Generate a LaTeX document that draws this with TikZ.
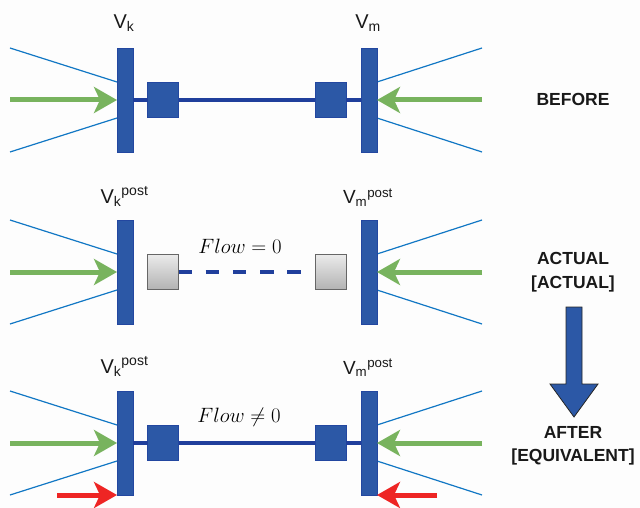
\documentclass[tikz,border=0pt]{standalone}
\usepackage{fontspec}
\setmainfont{Liberation Sans}
\usetikzlibrary{arrows.meta}
\definecolor{busblue}{HTML}{2C58A6}
\definecolor{busedge}{HTML}{2347A0}
\definecolor{linkblue}{HTML}{203F9C}
\definecolor{feeder}{HTML}{1177C4}
\definecolor{flowgreen}{HTML}{78B35E}
\definecolor{flowred}{HTML}{EE2524}
\definecolor{paper}{HTML}{FDFDFD}
\tikzset{
  busbar/.style={draw=busedge,line width=0.6pt,fill=busblue,minimum width=16pt,minimum height=104pt,inner sep=0pt,outer sep=0pt},
  brk/.style={draw=busedge,line width=0.6pt,fill=busblue,minimum width=31pt,minimum height=35pt,inner sep=0pt,outer sep=0pt},
  openbrk/.style={draw=black!60,line width=1pt,top color=black!8,bottom color=black!30,minimum width=31pt,minimum height=35pt,inner sep=0pt,outer sep=0pt},
  feederline/.style={draw=feeder,line width=1.2pt},
  link/.style={draw=linkblue,line width=3.6pt},
  openlink/.style={link,dash pattern=on 13.5pt off 13.7pt},
  greenflow/.style={draw=flowgreen,line width=5pt,-{Stealth[length=23pt,width=26pt,inset=6pt,fill=flowgreen]}},
  redflow/.style={draw=flowred,line width=5pt,-{Stealth[length=23pt,width=26pt,inset=6pt,fill=flowred]}},
  vlabel/.style={font=\fontsize{20}{22}\selectfont,inner sep=0pt,text=black!90},
  vmlabel/.style={font=\fontsize{19}{22}\selectfont,inner sep=0pt,text=black!90},
  statelabel/.style={font=\fontsize{17.5}{20}\selectfont\bfseries,inner sep=0pt,text=black!90},
  flowlabel/.style={font=\fontsize{20.7}{22}\selectfont,inner sep=0pt,text=black}
}
\newcommand{\feeders}[1]{%
  \coordinate (#1LT) at (10,-52);
  \coordinate (#1LB) at (10,52);
  \coordinate (#1RT) at (482,-52);
  \coordinate (#1RB) at (482,52);
  \coordinate (#1LTe) at (117,-18);
  \coordinate (#1LBe) at (117,18);
  \coordinate (#1RTf) at (377,-18);
  \coordinate (#1RBf) at (377,18);
  \coordinate (#1LG) at (10,0);
  \coordinate (#1RG) at (482,0);
  \draw[feederline] (#1LT) -- (#1LTe);
  \draw[feederline] (#1LB) -- (#1LBe);
  \draw[feederline] (#1RT) -- (#1RTf);
  \draw[feederline] (#1RB) -- (#1RBf);
  \node[busbar] (#1busk) at (125,0) {};
  \node[busbar] (#1busm) at (369,0) {};
  \draw[greenflow] (#1LG) -- (#1busk.west);
  \draw[greenflow] (#1RG) -- (#1busm.east);
}
\begin{document}
\begin{tikzpicture}[x=1pt,y=-1pt]
\useasboundingbox (0,0) rectangle (640,508);
\fill[paper] (0,0) rectangle (640,508);

% BEFORE
\begin{scope}[shift={(0,100)}]
  \feeders{a}
  \node[brk] (abrk) at (163,0) {};
  \node[brk] (abrm) at (330.5,0) {};
  \draw[link] (abusk.east) -- (abrk.west);
  \draw[link] (abrk.east) -- (abrm.west);
  \draw[link] (abrm.east) -- (abusm.west);
\end{scope}
\node[vlabel] (avk) at (124,23) {V\textsubscript{k}};
\node[vlabel] (avm) at (368,23) {V\textsubscript{m}};
\node[statelabel] (before) at (573,99) {BEFORE};

% ACTUAL
\begin{scope}[shift={(0,272)}]
  \feeders{b}
  \node[openbrk] (bbrk) at (163,0) {};
  \node[openbrk] (bbrm) at (330.5,0) {};
  \coordinate (bend) at (302,0);
  \draw[openlink] (bbrk.east) -- (bend);
\end{scope}
\node[flowlabel] (bflow) at (240,246) {$Flow = 0$};
\node[vlabel,anchor=base] (bvk) at (124.5,203) {V\textsubscript{k}\textsuperscript{post}};
\node[vmlabel,anchor=base] (bvm) at (368,204) {V\textsubscript{m}\textsuperscript{post}};
\node[statelabel] (actual) at (573,258) {ACTUAL};
\node[statelabel] (actualb) at (573,284) {[ACTUAL]};

% AFTER
\begin{scope}[shift={(0,443)}]
  \feeders{c}
  \node[brk] (cbrk) at (163,0) {};
  \node[brk] (cbrm) at (330.5,0) {};
  \draw[link] (cbusk.east) -- (cbrk.west);
  \draw[link] (cbrk.east) -- (cbrm.west);
  \draw[link] (cbrm.east) -- (cbusm.west);
  \coordinate (credl) at (57,52);
  \coordinate (credle) at (117,52);
  \coordinate (credr) at (437,52);
  \coordinate (credre) at (377,52);
  \draw[redflow] (credl) -- (credle);
  \draw[redflow] (credr) -- (credre);
\end{scope}
\node[flowlabel] (cflow) at (239,417) {$Flow \neq 0$};
\node[vlabel,anchor=base] (cvk) at (124.5,373) {V\textsubscript{k}\textsuperscript{post}};
\node[vmlabel,anchor=base] (cvm) at (368,374) {V\textsubscript{m}\textsuperscript{post}};
\node[statelabel] (after) at (573,432) {AFTER};
\node[statelabel] (afterb) at (573,457) {[EQUIVALENT]};

% transition arrow
\draw[fill=busblue,draw=black!85,line width=0.8pt,line join=miter]
  (566,307) -- (582,307) -- (582,384) -- (598,384) -- (574,417) -- (550,384) -- (566,384) -- cycle;
\end{tikzpicture}
\end{document}
